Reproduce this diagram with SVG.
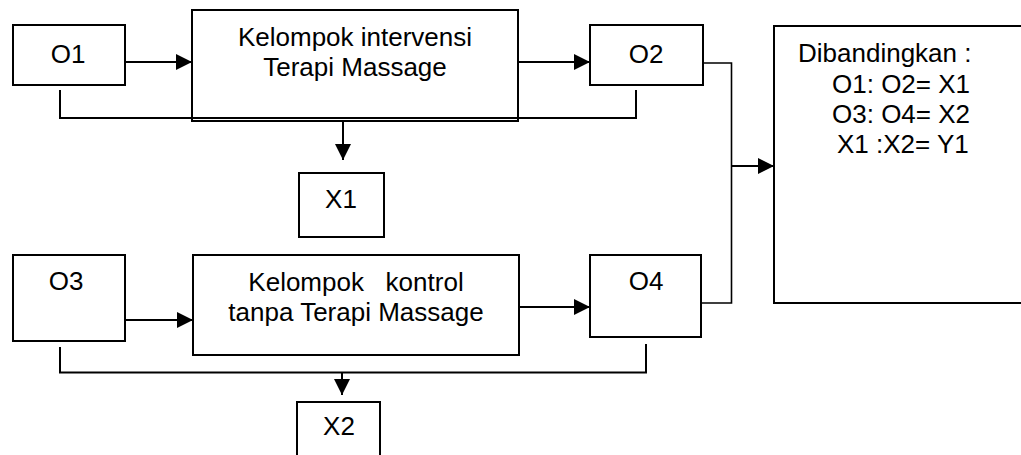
<svg xmlns="http://www.w3.org/2000/svg" width="1021" height="455" viewBox="0 0 1021 455">
<style>
.box{fill:#fff;stroke:#000;stroke-width:2}
.ln{fill:none;stroke:#000;stroke-width:2}
.thin{fill:none;stroke:#000;stroke-width:1.6}
text{font-family:"Liberation Sans",Arial,sans-serif;font-size:26px;fill:#000}
.c{text-anchor:middle}
</style>
<defs>
<marker id="ah" markerUnits="userSpaceOnUse" markerWidth="17" markerHeight="17" refX="16" refY="8" orient="auto">
<path d="M0,0 L16,8 L0,16 Z" fill="#000"/>
</marker>
</defs>
<rect width="1021" height="455" fill="#fff"/>
<g id="o1"><rect class="box" x="13" y="25" width="112" height="60"/><text class="c" x="68" y="63">O1</text></g>
<g id="intervensi"><rect class="box" x="192" y="10" width="326" height="111"/><text class="c" x="355" y="46">Kelompok intervensi</text><text class="c" x="355" y="76">Terapi Massage</text></g>
<g id="o2"><rect class="box" x="590" y="25" width="113" height="60"/><text class="c" x="646" y="63">O2</text></g>
<g id="x1"><rect class="box" x="299" y="173" width="85" height="64"/><text class="c" x="341" y="208">X1</text></g>
<g id="o3"><rect class="box" x="13" y="255" width="112" height="86"/><text class="c" x="66" y="290">O3</text></g>
<g id="kontrol"><rect class="box" x="193" y="255" width="326" height="100"/><text class="c" x="356" y="291" xml:space="preserve">Kelompok   kontrol</text><text class="c" x="356" y="321">tanpa Terapi Massage</text></g>
<g id="o4"><rect class="box" x="590" y="255" width="111" height="82"/><text class="c" x="646" y="290">O4</text></g>
<g id="x2"><rect class="box" x="297" y="402" width="83" height="70"/><text class="c" x="339" y="435">X2</text></g>
<g id="hasil"><rect class="box" x="774" y="26" width="270" height="277"/>
<text x="798" y="62">Dibandingkan :</text>
<text x="832" y="93">O1: O2= X1</text>
<text x="832" y="123">O3: O4= X2</text>
<text x="837" y="153">X1 :X2= Y1</text>
</g>
<g id="connectors">
<path class="ln" d="M125,62 H192" marker-end="url(#ah)"/>
<path class="ln" d="M518,62 H590" marker-end="url(#ah)"/>
<path class="ln" d="M60,90 V118 H636 V90"/>
<path class="ln" d="M343,121 V160" marker-end="url(#ah)"/>
<path class="ln" d="M125,320 H193" marker-end="url(#ah)"/>
<path class="ln" d="M519,307 H590" marker-end="url(#ah)"/>
<path class="ln" d="M60,347 V372.5 H646 V344"/>
<path class="ln" d="M342,372.5 V395" marker-end="url(#ah)"/>
<path class="thin" d="M703,63 H731.5 V303 H701"/>
<path class="ln" d="M731.5,166 H774" marker-end="url(#ah)"/>
</g>
</svg>
